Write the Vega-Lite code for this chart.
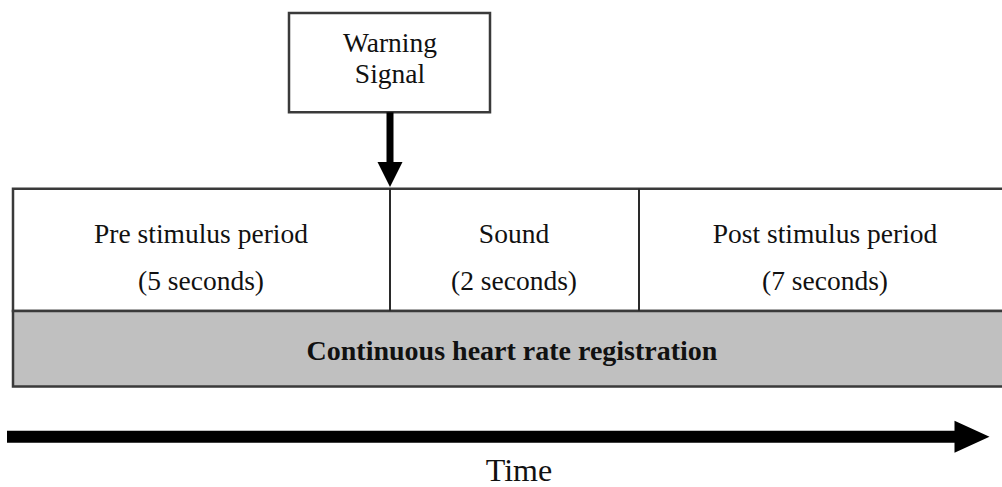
{
  "$schema": "https://vega.github.io/schema/vega-lite/v6.json",
  "width": 1002,
  "height": 487,
  "padding": 0,
  "autosize": {"type": "fit", "contains": "padding"},
  "background": "white",
  "config": {"view": {"stroke": null}},
  "datasets": {
    "boxes": [
      {"kind": "signal", "x1": 289, "x2": 490, "y1": 13, "y2": 113},
      {"kind": "period", "x1": 13, "x2": 1012, "y1": 190, "y2": 313},
      {"kind": "band", "x1": 13, "x2": 1012, "y1": 313, "y2": 389}
    ],
    "dividers": [
      {"x": 390, "y1": 190, "y2": 313},
      {"x": 639, "y1": 190, "y2": 313}
    ],
    "shafts": [
      {"name": "signal", "x1": 390, "x2": 390, "y1": 113, "y2": 166},
      {"name": "time", "x1": 7, "x2": 958, "y1": 439.5, "y2": 439.5}
    ],
    "heads": [
      {"name": "signal", "x": 390, "y": 175.5},
      {"name": "time", "x": 972, "y": 439.5}
    ],
    "labels": [
      {"style": "normal", "text": "Warning", "x": 390, "y": 52},
      {"style": "normal", "text": "Signal", "x": 390, "y": 84},
      {"style": "normal", "text": "Pre stimulus period", "x": 201, "y": 245},
      {"style": "normal", "text": "(5 seconds)", "x": 201, "y": 292},
      {"style": "normal", "text": "Sound", "x": 514, "y": 245},
      {"style": "normal", "text": "(2 seconds)", "x": 514, "y": 292},
      {"style": "normal", "text": "Post stimulus period", "x": 825, "y": 245},
      {"style": "normal", "text": "(7 seconds)", "x": 825, "y": 292},
      {"style": "bold", "text": "Continuous heart rate registration", "x": 512, "y": 362},
      {"style": "big", "text": "Time", "x": 519, "y": 484}
    ]
  },
  "layer": [
    {
      "data": {"name": "boxes"},
      "mark": {"type": "rect", "stroke": "#3a3a3a", "strokeWidth": 2.5, "clip": true},
      "encoding": {
        "x": {"field": "x1", "type": "quantitative", "scale": {"domain": [0, 1002], "nice": false, "zero": false}, "axis": null},
        "x2": {"field": "x2"},
        "y": {"field": "y1", "type": "quantitative", "scale": {"domain": [0, 487], "nice": false, "zero": false, "reverse": true}, "axis": null},
        "y2": {"field": "y2"},
        "fill": {"field": "kind", "type": "nominal", "scale": {"domain": ["signal", "period", "band"], "range": ["#ffffff", "#ffffff", "#c0c0c0"]}, "legend": null}
      }
    },
    {
      "data": {"name": "dividers"},
      "mark": {"type": "rule", "color": "#2a2a2a", "strokeWidth": 2},
      "encoding": {
        "x": {"field": "x", "type": "quantitative", "axis": null},
        "y": {"field": "y1", "type": "quantitative", "axis": null},
        "y2": {"field": "y2"}
      }
    },
    {
      "data": {"name": "shafts"},
      "transform": [{"filter": "datum.name === 'signal'"}],
      "mark": {"type": "rule", "color": "#000000", "strokeWidth": 7, "strokeCap": "butt"},
      "encoding": {
        "x": {"field": "x1", "type": "quantitative", "axis": null},
        "x2": {"field": "x2"},
        "y": {"field": "y1", "type": "quantitative", "axis": null},
        "y2": {"field": "y2"}
      }
    },
    {
      "data": {"name": "shafts"},
      "transform": [{"filter": "datum.name === 'time'"}],
      "mark": {"type": "rule", "color": "#000000", "strokeWidth": 12, "strokeCap": "butt"},
      "encoding": {
        "x": {"field": "x1", "type": "quantitative", "axis": null},
        "x2": {"field": "x2"},
        "y": {"field": "y1", "type": "quantitative", "axis": null},
        "y2": {"field": "y2"}
      }
    },
    {
      "data": {"name": "heads"},
      "transform": [{"filter": "datum.name === 'signal'"}],
      "mark": {"type": "point", "shape": "M-1,-1L1,-1L0,1Z", "size": 625, "filled": true, "fill": "#000000", "opacity": 1, "strokeWidth": 0},
      "encoding": {
        "x": {"field": "x", "type": "quantitative", "axis": null},
        "y": {"field": "y", "type": "quantitative", "axis": null}
      }
    },
    {
      "data": {"name": "heads"},
      "transform": [{"filter": "datum.name === 'time'"}],
      "mark": {"type": "point", "shape": "M-1,-0.91L1,0L-1,0.91Z", "size": 1225, "filled": true, "fill": "#000000", "opacity": 1, "strokeWidth": 0},
      "encoding": {
        "x": {"field": "x", "type": "quantitative", "axis": null},
        "y": {"field": "y", "type": "quantitative", "axis": null}
      }
    },
    {
      "data": {"name": "labels"},
      "transform": [{"filter": "datum.style === 'normal'"}],
      "mark": {"type": "text", "font": "Liberation Serif", "fontSize": 27.5, "color": "#111111", "align": "center", "baseline": "alphabetic"},
      "encoding": {
        "x": {"field": "x", "type": "quantitative", "axis": null},
        "y": {"field": "y", "type": "quantitative", "axis": null},
        "text": {"field": "text"}
      }
    },
    {
      "data": {"name": "labels"},
      "transform": [{"filter": "datum.style === 'bold'"}],
      "mark": {"type": "text", "font": "Liberation Serif", "fontSize": 28, "fontWeight": "bold", "color": "#111111", "align": "center", "baseline": "alphabetic"},
      "encoding": {
        "x": {"field": "x", "type": "quantitative", "axis": null},
        "y": {"field": "y", "type": "quantitative", "axis": null},
        "text": {"field": "text"}
      }
    },
    {
      "data": {"name": "labels"},
      "transform": [{"filter": "datum.style === 'big'"}],
      "mark": {"type": "text", "font": "Liberation Serif", "fontSize": 32, "color": "#111111", "align": "center", "baseline": "alphabetic"},
      "encoding": {
        "x": {"field": "x", "type": "quantitative", "axis": null},
        "y": {"field": "y", "type": "quantitative", "axis": null},
        "text": {"field": "text"}
      }
    }
  ]
}
